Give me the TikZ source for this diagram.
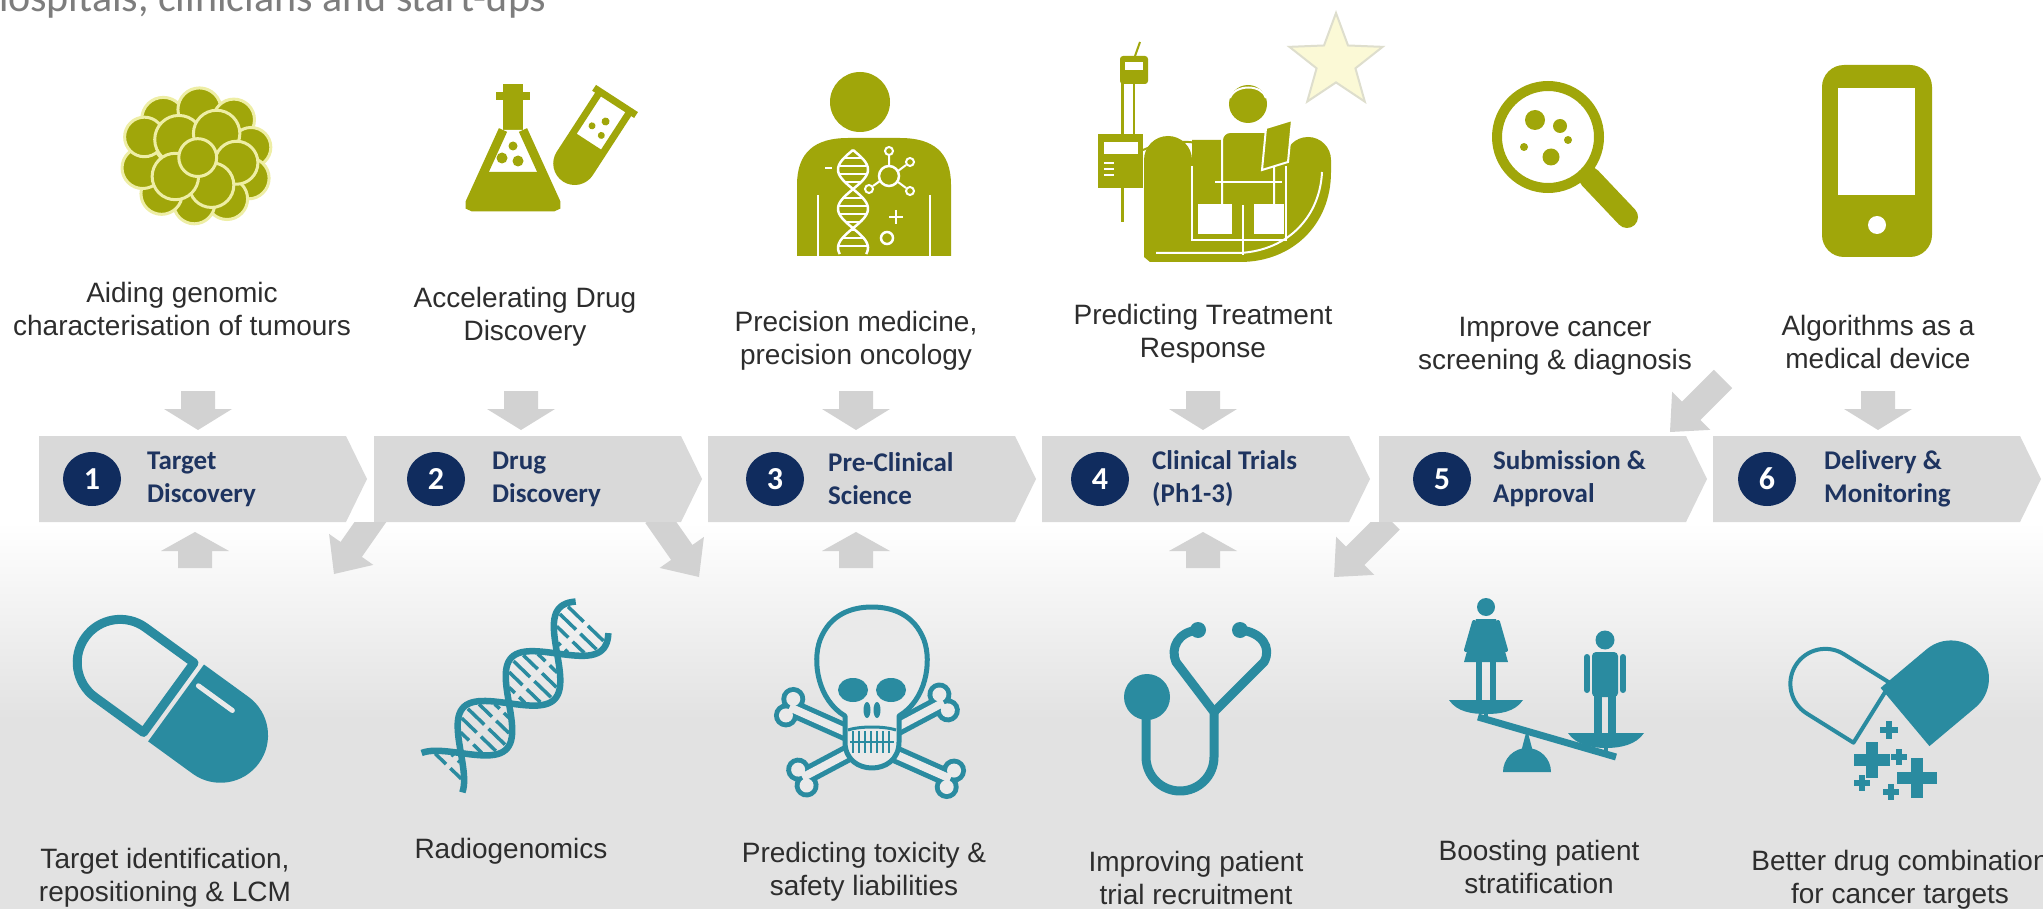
\documentclass[tikz,border=0pt]{standalone}
\usepackage{fontspec}
\setmainfont{Liberation Sans}
\newfontfamily\calfont{Carlito}
\usetikzlibrary{shapes.geometric}

\definecolor{iconolive}{RGB}{160,166,10}
\definecolor{cellrim}{RGB}{238,238,165}
\definecolor{iconteal}{RGB}{42,139,160}
\definecolor{stepnavy}{RGB}{16,44,94}
\definecolor{steptext}{RGB}{30,52,96}
\definecolor{chevgray}{RGB}{217,217,217}
\definecolor{arrgray}{RGB}{210,210,210}
\definecolor{labeltext}{RGB}{45,45,45}
\definecolor{titlegray}{RGB}{125,125,125}
\definecolor{floorgray}{RGB}{226,226,226}
\definecolor{iconbg}{RGB}{234,234,234}
\definecolor{starfill}{RGB}{251,249,214}
\definecolor{starrim}{RGB}{222,222,205}

% block arrow given by its tail: x, y, direction (deg), length, shaft half width, head half width, head length
\newcommand\blockarrow[7]{%
  \fill[arrgray,shift={(#1,#2)},rotate=#3]
    (0,-#5) -- ({#4-#7},-#5) -- ({#4-#7},-#6) -- (#4,0) -- ({#4-#7},#6) -- ({#4-#7},#5) -- (0,#5) -- cycle;}
% block arrow given by its tip: x, y, direction (deg), length, shaft half width, head half width, head length
\newcommand\tiparrow[7]{%
  \fill[arrgray,shift={(#1,#2)},rotate=#3]
    (-#4,-#5) -- (-#7,-#5) -- (-#7,-#6) -- (0,0) -- (-#7,#6) -- (-#7,#5) -- (-#4,#5) -- cycle;}
% plus sign: x, y, half size
\newcommand\plussign[3]{%
  \fill[iconteal] ({#1-#3},{#2-0.32*#3}) rectangle ({#1+#3},{#2+0.32*#3});
  \fill[iconteal] ({#1-0.32*#3},{#2-#3}) rectangle ({#1+0.32*#3},{#2+#3});}

\begin{document}
\begin{tikzpicture}[x=1pt,y=-1pt,
  lbl/.style={align=center,text=labeltext,inner sep=0pt,font=\fontsize{28}{33}\selectfont},
  numc/.style={ellipse,fill=stepnavy,minimum width=58pt,minimum height=54pt,inner sep=0pt,
    text=white,font=\calfont\bfseries\fontsize{32}{32}\selectfont},
  steptxt/.style={align=left,anchor=west,text=steptext,inner sep=0pt,
    font=\calfont\bfseries\fontsize{27}{33}\selectfont},
]
\useasboundingbox (0,0) rectangle (2043,909);

% ---------- background ----------
\fill[white] (0,0) rectangle (2043,909);
\shade[top color=white,bottom color=floorgray] (0,522) rectangle (2043,720);
\fill[floorgray] (0,719) rectangle (2043,909);

% ---------- title ----------
\node[anchor=base west,text=titlegray,inner sep=0pt,font=\calfont\fontsize{42}{42}\selectfont]
  (title) at (-14,12) {hospitals, clinicians and start-ups};

% ---------- grey block arrows ----------
\foreach \ax in {198,521,856,1203,1878} \blockarrow{\ax}{391}{-90}{39}{17}{34}{21};
\foreach \ax in {195,856,1203} \blockarrow{\ax}{568}{90}{36}{17}{34}{19};
\begin{scope}
  \clip (0,522) rectangle (2043,909);
  \tiparrow{334}{574}{235}{75}{13}{27}{30}
  \tiparrow{699}{577}{-55}{75}{13}{27}{30}
  \tiparrow{1334}{577}{225}{80}{13}{27}{30}
\end{scope}
\begin{scope}
  \clip (0,0) rectangle (2043,436);
  \tiparrow{1670}{432}{225}{75}{13}{27}{30}
\end{scope}

% ---------- chevrons ----------
\foreach \L in {39,374,708,1042,1379,1713}
  \fill[chevgray] (\L,436) -- ++(307,0) -- ++(21,43) -- ++(-21,43) -- ++(-307,0) -- cycle;

\node[numc] (c1) at (92,479) {1};
\node[numc] (c2) at (436,479) {2};
\node[numc] (c3) at (775,479) {3};
\node[numc] (c4) at (1100,479) {4};
\node[numc] (c5) at (1442,479) {5};
\node[numc] (c6) at (1767,479) {6};

\node[steptxt] (s1) at (147,479) {Target\\Discovery};
\node[steptxt] (s2) at (492,479) {Drug\\Discovery};
\node[steptxt] (s3) at (828,479) {Pre-Clinical\\Science};
\node[steptxt] (s4) at (1152,479) {Clinical Trials\\(Ph1-3)};
\node[steptxt] (s5) at (1493,479) {Submission \&\\Approval};
\node[steptxt] (s6) at (1824,479) {Delivery \&\\Monitoring};

% ---------- top labels ----------
\node[lbl] (t1) at (182,309) {Aiding genomic\\characterisation of tumours};
\node[lbl] (t2) at (525,317) {Accelerating Drug\\Discovery};
\node[lbl] (t3) at (856,341) {Precision medicine,\\precision oncology};
\node[lbl] (t4) at (1203,334) {Predicting Treatment\\Response};
\node[lbl] (t5) at (1555,346) {Improve cancer\\screening \& diagnosis};
\node[lbl] (t6) at (1878,342) {Algorithms as a\\medical device};

% ---------- bottom labels ----------
\node[lbl] (b1) at (165,878) {Target identification,\\repositioning \& LCM};
\node[lbl] (b2) at (511,851) {Radiogenomics};
\node[lbl] (b3) at (864,872) {Predicting toxicity \&\\safety liabilities};
\node[lbl] (b4) at (1196,878) {Improving patient\\trial recruitment};
\node[lbl] (b5) at (1539,867) {Boosting patient\\stratification};
\node[lbl] (b6) at (1900,880) {Better drug combination\\for cancer targets};

% ================= olive icons =================
% cell cluster
\begin{scope}[shift={(196,155)},scale=0.86]
\foreach \cx/\cy/\r in {-38/-42/25, 4/-53/25, 44/-41/24, 64/-9/23, 61/27/24,
  36/51/24, -2/56/24, -40/45/24, -62/15/24, -60/-21/23, -20/-18/28, 24/-25/27,
  47/9/25, 18/35/26, -24/25/27, 2/3/22}
  \filldraw[fill=iconolive,draw=cellrim,line width=3] (\cx,\cy) circle (\r);
\end{scope}

% test tube
\begin{scope}[shift={(590,140)},rotate=-33]
  \draw[iconolive,line width=7,fill=white] (-18,-46) -- (-18,28) arc(180:0:18) -- (18,-46);
  \fill[iconolive] (-18,2) -- (-18,28) arc(180:0:18) -- (18,2) -- cycle;
  \draw[iconolive,line width=7] (-25,-46) -- (25,-46);
  \fill[iconolive] (3,-24) circle (4) (-6,-13) circle (3.5) (7,-10) circle (3.5);
\end{scope}
% flask
\fill[iconolive] (503,84) rectangle (523,92);
\fill[iconolive] (496,92) rectangle (530,100);
\fill[iconolive] (503,100) rectangle (523,132);
\draw[iconolive,line width=9,fill=white,rounded corners=5] (503,130) -- (468,207) -- (558,207) -- (523,130);
\fill[iconolive,rounded corners=3] (484,172) -- (542,172) -- (558,207) -- (468,207) -- cycle;
\fill[iconolive] (513,146) circle (4.5) (502,158) circle (5.5) (518,161) circle (5.5);

% person with DNA
\fill[iconolive] (860,102) circle (30);
\fill[iconolive] (797,256) -- (797,185) .. controls (797,152) and (815,138) .. (848,138)
  -- (900,138) .. controls (933,138) and (951,152) .. (951,185) -- (951,256) -- cycle;
\draw[white,line width=2.5] (818,195) -- (818,256) (930,195) -- (930,256);
\draw[white,line width=2.5] plot[domain=150:254,samples=50] ({853+15*sin((\x-150)*4.6)},\x);
\draw[white,line width=2.5] plot[domain=150:254,samples=50] ({853-15*sin((\x-150)*4.6)},\x);
\foreach \yy in {158,166,...,250} {
  \pgfmathsetmacro\dx{14*sin((\yy-150)*4.6)}
  \draw[white,line width=2] ({853-\dx},\yy) -- ({853+\dx},\yy);
}
\draw[white,line width=2.5] (889,176) circle (10);
\draw[white,line width=2] (889,166) -- (889,156) (898,171) -- (906,165) (898,182) -- (906,188) (880,181) -- (873,186);
\draw[white,line width=2] (889,151) circle (4) (910,162) circle (4) (910,191) circle (4) (869,189) circle (4);
\draw[white,line width=2.5] (896,210) -- (896,224) (889,217) -- (903,217);
\draw[white,line width=2.5] (887,238) circle (6);
\draw[white,line width=2.5] (825,168) -- (832,168);

% star
\node[star,star points=5,star point ratio=2.4,minimum size=98pt,inner sep=0pt,
  fill=starfill,draw=starrim,line width=2pt] (star) at (1336,62) {};

% patient in chair with drip
\draw[iconolive,line width=3] (1122,58) -- (1122,222);
\draw[iconolive,line width=2] (1135,56) -- (1140,42);
\fill[iconolive,rounded corners=3] (1120,56) rectangle (1148,84);
\fill[white] (1125,62) rectangle (1143,70);
\draw[iconolive,line width=2] (1134,84) -- (1134,134);
\fill[iconolive] (1098,134) rectangle (1143,188);
\fill[white] (1104,142) rectangle (1138,154);
\draw[white,line width=2] (1104,163) -- (1114,163) (1104,169) -- (1114,169) (1104,175) -- (1114,175);
\draw[iconolive,line width=2] (1143,150) .. controls (1165,140) and (1195,138) .. (1218,150);
\fill[iconolive] (1144,257) -- (1144,160) arc(180:360:24) -- (1192,140) -- (1285,140)
  -- (1285,160) arc(180:360:23) -- (1331,172) .. controls (1331,225) and (1292,262) .. (1240,262)
  -- (1150,262) -- cycle;
\draw[white,line width=2] (1192,166) -- (1192,240) -- (1286,240) -- (1286,166);
\draw[white,line width=2] (1322,172) .. controls (1320,215) and (1290,250) .. (1240,253) -- (1156,253);
% patient
\fill[iconolive] (1248,104) circle (19);
\draw[white,line width=2] (1230,98) .. controls (1235,84) and (1262,84) .. (1266,98);
\draw[white,line width=2,fill=iconolive,rounded corners=8] (1222,205) -- (1222,132) -- (1274,132) -- (1274,205);
\fill[white] (1198,204) rectangle (1232,234);
\fill[white] (1254,204) rectangle (1284,234);
\draw[white,line width=2] (1243,205) -- (1243,255);
\draw[white,line width=2,fill=iconolive] (1262,170) -- (1266,128) -- (1292,120) -- (1288,162) -- cycle;
\draw[white,line width=2] (1215,182) -- (1282,182);

% magnifier
\draw[iconolive,line width=10] (1548,137) circle (51);
\draw[iconolive,line width=22,line cap=round] (1590,178) -- (1627,217);
\fill[iconolive] (1535,120) circle (10) (1560,126) circle (7) (1551,157) circle (8.5)
  (1524,147) circle (4) (1568,140) circle (4);

% phone
\fill[iconolive,rounded corners=22] (1822,65) rectangle (1932,257);
\fill[white] (1838,88) rectangle (1915,195);
\fill[white] (1877,225) circle (9);

% ================= teal icons =================
% capsule
\begin{scope}[shift={(172,700)},rotate=-36]
  \draw[iconteal,line width=9,line join=round] (-4,-43) -- (-64,-43) arc(270:90:43) -- (-4,43) -- cycle;
  \fill[iconteal] (5,-47.5) -- (60,-47.5) arc(-90:90:47.5) -- (5,47.5) -- cycle;
  \draw[iconbg,line width=5,line cap=round] (13,-27) -- (55,-27);
\end{scope}

% DNA helix
\begin{scope}[shift={(517,695)},rotate=46]
  \draw[iconteal,line width=6.5] plot[domain=-108:108,samples=80] (\x,{30*sin(\x*2.6+30)});
  \draw[iconteal,line width=6.5] plot[domain=-108:108,samples=80] (\x,{-30*sin(\x*2.6+30)});
  \foreach \t in {-99,-88,...,104} {
    \pgfmathsetmacro\hh{max(abs(30*sin(\t*2.6+30))-4,0)}
    \pgfmathsetmacro\gg{min(3,\hh)}
    \draw[iconteal,line width=3.5] (\t,-\hh) -- (\t,-\gg) (\t,\gg) -- (\t,\hh);
  }
\end{scope}

% crossbones
\begin{scope}[shift={(870,743)},rotate=-24]
  \fill[iconteal] (-88,-9) circle (12) (-88,9) circle (12) (88,-9) circle (12) (88,9) circle (12);
  \fill[iconteal] (-88,-9) rectangle (88,9);
  \fill[iconbg] (-88,-9) circle (7) (-88,9) circle (7) (88,-9) circle (7) (88,9) circle (7);
  \fill[iconbg] (-88,-4) rectangle (88,4);
\end{scope}
\begin{scope}[shift={(873,740)},rotate=28]
  \fill[iconteal] (-80,-9) circle (12) (-80,9) circle (12) (80,-9) circle (12) (80,9) circle (12);
  \fill[iconteal] (-80,-9) rectangle (80,9);
  \fill[iconbg] (-80,-9) circle (7) (-80,9) circle (7) (80,-9) circle (7) (80,9) circle (7);
  \fill[iconbg] (-80,-4) rectangle (80,4);
\end{scope}
% skull
\filldraw[draw=iconteal,fill=iconbg,line width=5,line join=round]
  (845,716) .. controls (818,700) and (812,662) .. (820,640) .. controls (830,614) and (852,607) .. (872,607)
  .. controls (892,607) and (914,614) .. (924,640) .. controls (932,662) and (926,700) .. (899,716)
  -- (899,742) .. controls (899,760) and (885,768) .. (872,768) .. controls (859,768) and (845,760) .. (845,742) -- cycle;
\fill[iconteal] (853,690) ellipse (15 and 12) (891,690) ellipse (15 and 12);
\fill[iconteal] (867,710) ellipse (3.5 and 8) (877,710) ellipse (3.5 and 8);
\draw[iconteal,line width=3] (848,730) .. controls (860,726) and (884,726) .. (896,730);
\draw[iconteal,line width=2] (850,742) -- (894,742);
\foreach \tx in {853,859,...,891} \draw[iconteal,line width=2] (\tx,731) -- (\tx,753);

% stethoscope
\draw[iconteal,line width=9,line cap=round,line join=round] (1198,630) .. controls (1178,632) and (1170,648) .. (1176,662)
  -- (1214,712) -- (1214,757) arc(0:180:34) -- (1146,718);
\draw[iconteal,line width=9,line cap=round,line join=round] (1240,630) .. controls (1262,632) and (1272,648) .. (1264,662) -- (1214,712);
\fill[iconteal] (1198,630) circle (8) (1240,630) circle (8);
\fill[iconteal] (1147,697) circle (23);

% balance with two figures
\fill[iconteal] (1503,772) arc(180:360:24) -- cycle;
\fill[iconteal] (1521,752) -- (1533,752) -- (1527,729) -- cycle;
\draw[iconteal,line width=7] (1478,717) -- (1616,757);
\fill[iconteal] (1486,607) circle (9);
\fill[iconteal] (1476,619) -- (1496,619) -- (1508,662) -- (1464,662) -- cycle;
\draw[iconteal,line width=4,line cap=round] (1474,622) -- (1466,650) (1498,622) -- (1506,650);
\draw[iconteal,line width=6] (1479,660) -- (1479,701) (1493,660) -- (1493,701);
\fill[iconteal] (1449,700) -- (1523,700) .. controls (1515,712) and (1500,714) .. (1486,714) .. controls (1472,714) and (1457,712) .. cycle;
\draw[iconteal,line width=4] (1486,713) -- (1486,721);
\fill[iconteal] (1605,640) circle (9.5);
\fill[iconteal,rounded corners=4] (1592,652) rectangle (1618,697);
\draw[iconteal,line width=6,line cap=round] (1587,657) -- (1587,690) (1623,657) -- (1623,690);
\draw[iconteal,line width=8] (1598,695) -- (1598,734) (1612,695) -- (1612,734);
\fill[iconteal] (1568,733) -- (1644,733) .. controls (1636,745) and (1620,748) .. (1606,748) .. controls (1592,748) and (1576,745) .. cycle;
\draw[iconteal,line width=4] (1606,747) -- (1606,755);

% broken capsule
\begin{scope}[shift={(1872,713)},rotate=-32]
  \draw[iconteal,line width=4,line join=round] (0,-35) -- (-55,-35) arc(270:90:35) -- (0,35) -- cycle;
\end{scope}
\begin{scope}[shift={(1905,717)},rotate=40]
  \fill[iconteal] (0,-38) -- (60,-38) arc(-90:90:38) -- (0,38) -- cycle;
\end{scope}
\plussign{1889}{730}{9}
\plussign{1872}{760}{18}
\plussign{1899}{757}{8}
\plussign{1917}{778}{20}
\plussign{1862}{783}{8}
\plussign{1891}{792}{8}

\end{tikzpicture}
\end{document}
